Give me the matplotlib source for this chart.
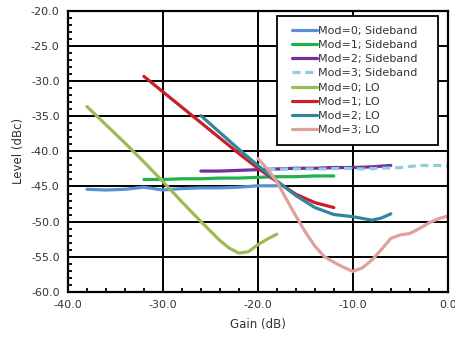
import matplotlib.pyplot as plt
from matplotlib.patches import Rectangle
from matplotlib.ticker import MultipleLocator

# gain (dB) / level (dBc)
SB0_GAIN = [-38, -36, -34, -32, -30, -28, -26, -24, -22, -20, -18]
SB0_LEVEL = [-45.4, -45.5, -45.4, -45.1, -45.5, -45.3, -45.2, -45.2, -45.1, -44.9, -44.9]

SB1_GAIN = [-32, -30, -28, -26, -24, -22, -20, -18, -16, -14, -12]
SB1_LEVEL = [-44.0, -44.0, -43.9, -43.9, -43.8, -43.8, -43.7, -43.6, -43.6, -43.5, -43.5]

SB2_GAIN = [-26, -24, -22, -20, -18, -16, -14, -12, -10, -8, -6]
SB2_LEVEL = [-42.8, -42.8, -42.7, -42.6, -42.5, -42.4, -42.4, -42.3, -42.3, -42.2, -42.0]

SB3_GAIN = [-19, -17, -15, -13, -11, -9, -7, -5, -3, -1, 0]
SB3_LEVEL = [-42.6, -42.5, -42.5, -42.5, -42.4, -42.5, -42.4, -42.3, -42.0, -42.0, -42.1]

LO0_GAIN = [-38, -36, -34, -32, -30, -28, -26, -24, -23, -22, -21, -20, -19, -18]
LO0_LEVEL = [-33.6, -36.2, -38.8, -41.5, -44.3, -47.2, -50.0, -52.7, -53.8, -54.5, -54.3, -53.3, -52.5, -51.8]

LO1_GAIN = [-32, -30, -28, -26, -24, -22, -20, -18, -16, -14, -12]
LO1_LEVEL = [-29.3, -31.5, -33.7, -35.9, -38.1, -40.3, -42.4, -44.3, -46.1, -47.3, -48.0]

LO2_GAIN = [-26, -24, -22, -20, -18, -16, -14, -12, -10, -8, -7, -6]
LO2_LEVEL = [-34.9, -37.3, -39.7, -42.0, -44.2, -46.3, -48.0, -49.0, -49.3, -49.8, -49.5, -48.9]

LO3_GAIN = [-20, -19, -18, -17, -16, -15, -14, -13, -12, -11, -10, -9, -8, -7, -6, -5, -4, -3, -2, -1, 0]
LO3_LEVEL = [-41.0, -42.5, -44.3, -46.8, -49.2, -51.5, -53.5, -55.0, -55.8, -56.5, -57.1, -56.6, -55.5,
             -54.0, -52.4, -51.9, -51.7, -51.0, -50.2, -49.6, -49.2]

SERIES = [
    ("Mod=0; Sideband", SB0_GAIN, SB0_LEVEL, "#5b8fd3", "-"),
    ("Mod=1; Sideband", SB1_GAIN, SB1_LEVEL, "#22b14c", "-"),
    ("Mod=2; Sideband", SB2_GAIN, SB2_LEVEL, "#7030a0", "-"),
    ("Mod=3; Sideband", SB3_GAIN, SB3_LEVEL, "#92cddc", "--"),
    ("Mod=0; LO", LO0_GAIN, LO0_LEVEL, "#9bbb59", "-"),
    ("Mod=1; LO", LO1_GAIN, LO1_LEVEL, "#c8202a", "-"),
    ("Mod=2; LO", LO2_GAIN, LO2_LEVEL, "#31859c", "-"),
    ("Mod=3; LO", LO3_GAIN, LO3_LEVEL, "#e0a09e", "-"),
]

plt.rcParams["font.family"] = ["DejaVu Sans"]

fig = plt.figure(figsize=(4.56, 3.38), dpi=100)
ax = fig.add_axes([0.149, 0.137, 0.833, 0.830])

for label, gx, gy, color, ls in SERIES:
    ax.plot(gx, gy, ls, color=color, lw=2.3, label=label, solid_capstyle="round",
            dashes=(2.5, 1.5) if ls == "--" else (None, None))

ax.set_xlim(-40, 0)
ax.set_ylim(-60, -20)
ax.xaxis.set_major_locator(MultipleLocator(10))
ax.xaxis.set_minor_locator(MultipleLocator(2))
ax.yaxis.set_major_locator(MultipleLocator(5))
ax.yaxis.set_minor_locator(MultipleLocator(1))
ax.xaxis.set_major_formatter(lambda v, p: f"{v:.1f}")
ax.yaxis.set_major_formatter(lambda v, p: f"{v:.1f}")
ax.grid(True, which="major", color="black", lw=1.4)
ax.tick_params(which="major", length=0, labelsize=8, colors="#333333", pad=6)
ax.tick_params(which="minor", direction="in", length=3, width=1.3, color="black")
ax.tick_params(axis="x", which="minor", top=False)
ax.tick_params(axis="y", which="minor", right=False)
for s in ax.spines.values():
    s.set_color("black")
    s.set_linewidth(1.6)

ax.set_xlabel("Gain (dB)", fontsize=8.5, color="#333333", labelpad=6)
ax.set_ylabel("Level (dBc)", fontsize=8.5, color="#333333", labelpad=4)

# Excel-style legend box: wider than the entries
ax.add_patch(Rectangle((0.55, 0.523), 0.424, 0.46, transform=ax.transAxes,
                       facecolor="white", edgecolor="black", lw=1.3, zorder=4))
leg = ax.legend(loc="center", bbox_to_anchor=(0.755, 0.753), fontsize=8, frameon=False,
                handlelength=2.3, handletextpad=0.1, labelspacing=0.38, borderpad=0.2)
leg.set_zorder(5)
for t in leg.get_texts():
    t.set_color("#333333")

fig.savefig("out.png", dpi=100)
